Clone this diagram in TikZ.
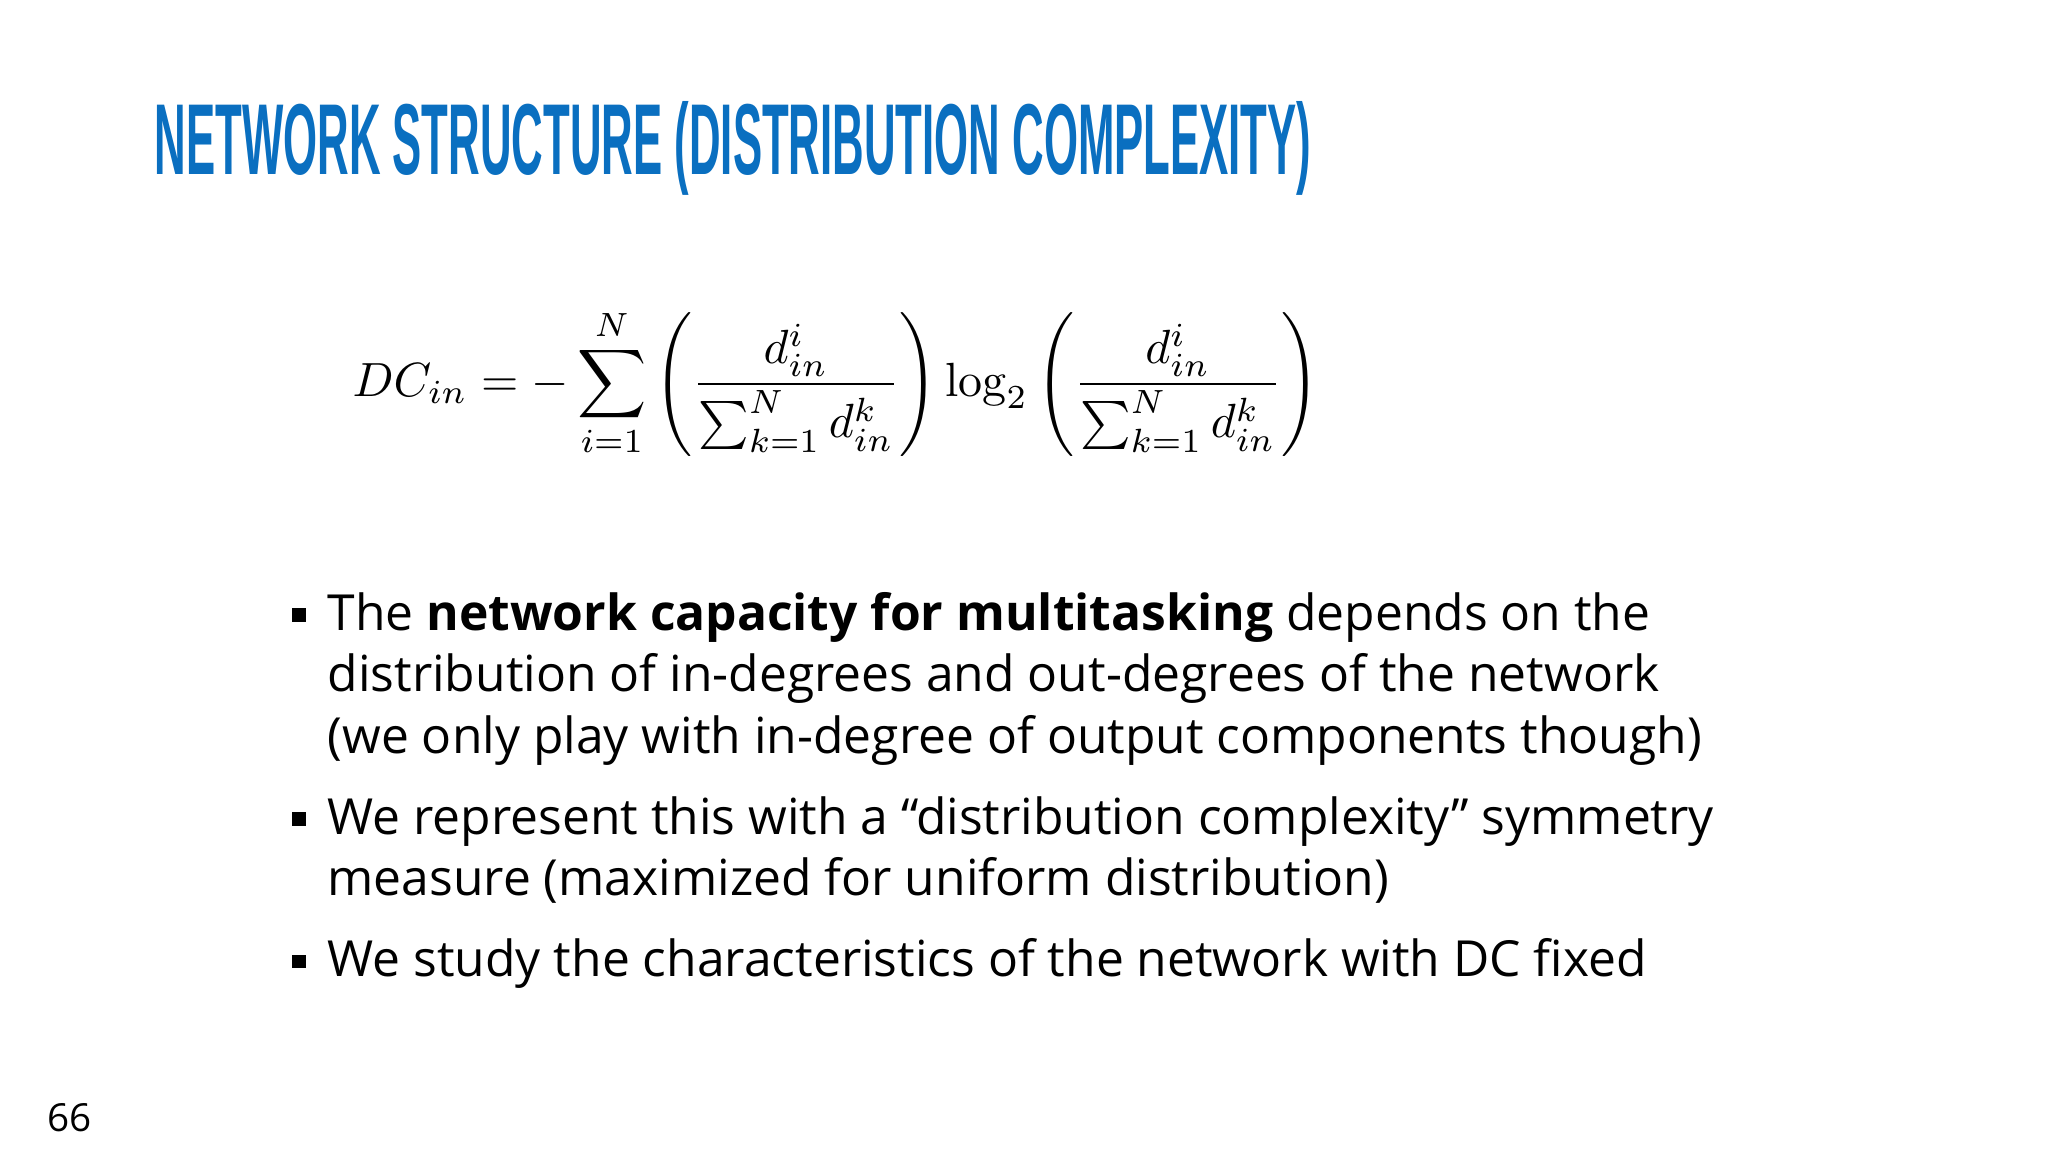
\documentclass[tikz,border=0pt]{standalone}
\usepackage{amsmath}
\usepackage{fontspec}
\setmainfont{Open Sans}
\newfontfamily\titlefont{Liberation Sans}
\newfontfamily\lmr{Latin Modern Roman}
\definecolor{intelblue}{HTML}{0A6FC0}
\begin{document}
\begin{tikzpicture}[x=0.01cm,y=-0.01cm,
  line/.style={anchor=base west,inner sep=0pt,font=\fontsize{14.15}{17}\selectfont},
  bul/.style={fill=black,inner sep=0pt,minimum size=0.13cm}]
\useasboundingbox[fill=white] (0,0) rectangle (2048,1152);
\node[anchor=base west,inner sep=0pt,text=intelblue] (title) at (154,175)
  {\resizebox{11.56cm}{0.73cm}{\titlefont\bfseries NETWORK STRUCTURE (DISTRIBUTION COMPLEXITY)}};
\node[inner sep=0pt] (eq) at (836,383) {\resizebox{9.66cm}{!}{$DC_{in} = -\displaystyle\sum_{i=1}^{N}\left(\frac{d_{in}^{i}}{\sum_{k=1}^{N} d_{in}^{k}}\right)\mathop{\text{\lmr log}}\nolimits_2\left(\frac{d_{in}^{i}}{\sum_{k=1}^{N} d_{in}^{k}}\right)$}};
\node[bul] (b1) at (299,615) {};
\node[line] (l1) at (327,630) {The \textbf{network capacity for multitasking} depends on the};
\node[line] (l2) at (327,692) {distribution of in-degrees and out-degrees of the network};
\node[line] (l3) at (327,753) {(we only play with in-degree of output components though)};
\node[bul] (b2) at (299,819) {};
\node[line] (l4) at (327,834) {We represent this with a “distribution complexity” symmetry};
\node[line] (l5) at (327,895) {measure (maximized for uniform distribution)};
\node[bul] (b3) at (299,961) {};
\node[line] (l6) at (327,976) {We study the characteristics of the network with DC fixed};
\node[anchor=base west,inner sep=0pt,font=\fontsize{11}{13}\selectfont] (pg) at (47,1131) {66};
\end{tikzpicture}
\end{document}
